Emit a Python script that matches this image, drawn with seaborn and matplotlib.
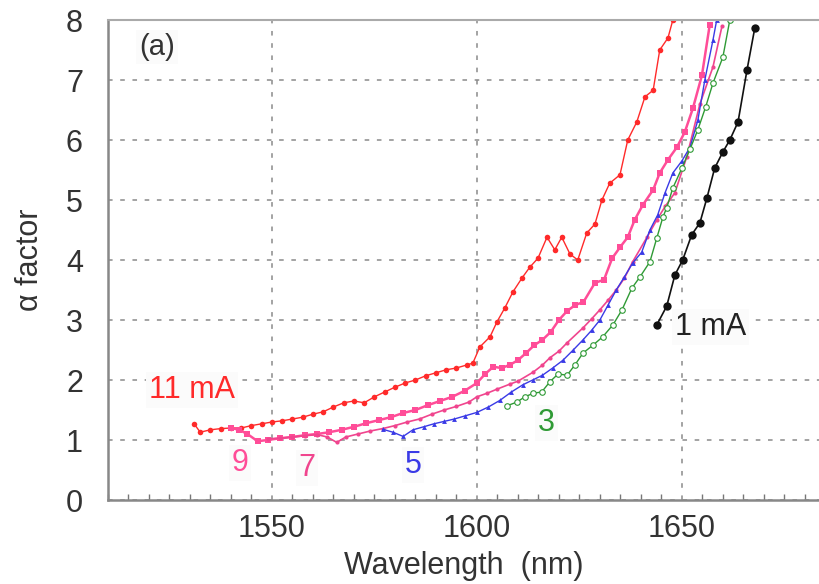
import matplotlib
matplotlib.use("Agg")
import matplotlib.pyplot as plt
from matplotlib.ticker import MultipleLocator
import seaborn as sns
import pandas as pd

# ---- data ----
wl_11 = [1531, 1532.5, 1535, 1537.5, 1540, 1542.5, 1545, 1547.5, 1550, 1552.5, 1555, 1557.5, 1560,
         1562.5, 1565, 1567.5, 1570, 1572.5, 1575, 1577.5, 1580, 1582.5, 1585, 1587.5, 1590, 1592.5,
         1595, 1597.5, 1599, 1600.7, 1603.2, 1604.9, 1606.8, 1608.8, 1611.0, 1612.9, 1614.9, 1617.1,
         1619.0, 1620.7, 1622.7, 1624.6, 1626.8, 1628.8, 1630.5, 1632.4, 1634.9, 1636.8, 1639.0,
         1641.0, 1643.0, 1644.6, 1646.6, 1647.8]
a_11 = [1.27, 1.13, 1.17, 1.19, 1.2, 1.2, 1.24, 1.27, 1.3, 1.32, 1.35, 1.38, 1.43, 1.47, 1.55, 1.62,
        1.65, 1.62, 1.72, 1.8, 1.88, 1.95, 2.0, 2.07, 2.12, 2.17, 2.2, 2.25, 2.28, 2.55, 2.72, 2.97,
        3.2, 3.47, 3.7, 3.88, 4.03, 4.38, 4.17, 4.38, 4.1, 4.0, 4.45, 4.6, 5.0, 5.28, 5.42, 6.0, 6.3,
        6.72, 6.83, 7.5, 7.7, 8.0]

wl_9 = [1540, 1542, 1544, 1546.5, 1549, 1552, 1555, 1558, 1561, 1564, 1567, 1570, 1573, 1576, 1579,
        1582, 1585, 1588, 1591, 1594, 1597, 1600, 1602, 1604, 1606, 1608, 1610, 1612, 1614, 1616,
        1618, 1620, 1622, 1624, 1626, 1628.8, 1631, 1633, 1635, 1636.8, 1638.5, 1640.5, 1643,
        1644.6, 1646.6, 1648.8, 1650.7, 1652.7, 1654.9, 1656.8]
a_9 = [1.2, 1.17, 1.1, 0.98, 1.0, 1.03, 1.05, 1.08, 1.1, 1.13, 1.17, 1.22, 1.28, 1.33, 1.38, 1.45,
       1.5, 1.58, 1.65, 1.72, 1.82, 1.95, 2.1, 2.22, 2.2, 2.25, 2.33, 2.45, 2.58, 2.67, 2.8, 3.0,
       3.15, 3.25, 3.3, 3.62, 3.67, 4.03, 4.22, 4.38, 4.67, 4.92, 5.17, 5.45, 5.67, 5.88, 6.13,
       6.53, 7.08, 7.92]

wl_7 = [1549, 1552, 1555, 1558, 1561, 1563.5, 1565.8, 1568, 1571, 1574, 1577, 1580, 1583, 1586,
        1589, 1592, 1595, 1598, 1600, 1602.5, 1605, 1608, 1610, 1613.7, 1616, 1617.8, 1620, 1622,
        1625.9, 1628, 1630, 1632, 1634, 1636, 1638, 1641.5, 1643.9, 1646, 1648.3, 1651.2, 1654.4,
        1657.6, 1659.8]
a_7 = [1.02, 1.03, 1.05, 1.07, 1.09, 1.05, 0.96, 1.05, 1.1, 1.15, 1.19, 1.24, 1.3, 1.35, 1.43, 1.5,
       1.56, 1.63, 1.72, 1.78, 1.85, 1.93, 1.98, 2.13, 2.25, 2.37, 2.48, 2.62, 2.87, 3.02, 3.17,
       3.33, 3.5, 3.7, 3.97, 4.38, 4.67, 4.9, 5.12, 5.72, 6.6, 7.22, 7.9]

wl_5 = [1577, 1579.5, 1582, 1584.4, 1587, 1589.5, 1592, 1594.5, 1597, 1600, 1602.8, 1605.6, 1608.4,
        1611.2, 1613.6, 1616, 1618.5, 1621, 1623.5, 1625.9, 1628, 1630, 1632, 1634, 1636, 1638,
        1640.2, 1642.2, 1644.1, 1645.9, 1647.8, 1650, 1652, 1653.9, 1655.6, 1657.6, 1658.5]
a_5 = [1.18, 1.13, 1.06, 1.17, 1.22, 1.27, 1.31, 1.35, 1.4, 1.46, 1.55, 1.66, 1.8, 1.92, 2.0, 2.08,
       2.2, 2.33, 2.5, 2.67, 2.83, 3.0, 3.25, 3.5, 3.72, 3.95, 4.13, 4.5, 4.75, 5.12, 5.45, 5.65,
       5.88, 6.33, 7.0, 7.67, 8.0]

wl_3 = [1607.3, 1609.7, 1611.7, 1613.8, 1615.8, 1617.8, 1619.8, 1622.0, 1623.9, 1625.9, 1628.3,
        1630.7, 1633.2, 1635.4, 1637.8, 1639.8, 1642.2, 1643.9, 1645.4, 1646.3, 1647.8, 1650.0,
        1652.0, 1653.9, 1655.8, 1657.6, 1660.0, 1661.7]
a_3 = [1.57, 1.63, 1.72, 1.78, 1.8, 1.97, 2.1, 2.08, 2.25, 2.45, 2.58, 2.72, 2.92, 3.17, 3.53, 3.72,
       3.97, 4.37, 4.72, 4.87, 5.2, 5.53, 5.85, 6.17, 6.55, 6.95, 7.38, 8.0]

wl_1 = [1643.9, 1646.3, 1648.3, 1650.2, 1652.4, 1654.4, 1656.1, 1658.0, 1660.0, 1661.7, 1663.7,
        1665.9, 1667.8]
a_1 = [2.92, 3.23, 3.75, 4.0, 4.42, 4.62, 5.03, 5.53, 5.8, 6.0, 6.3, 7.17, 7.87]

x_ticks = [1550, 1600, 1650]
y_ticks = [0, 1, 2, 3, 4, 5, 6, 7, 8]

# ---- style ----
sns.set_theme(style="white")
plt.rcParams["font.family"] = ["Liberation Sans", "DejaVu Sans"]

fig = plt.figure(figsize=(8.2, 5.84), dpi=100)
ax = fig.add_axes([108 / 820, 1 - 500 / 584, 1 - 108 / 820, (500 - 20) / 584])

series = [
    (wl_11, a_11, "#ff2a2a", "o", 4.0, 1.0, "none"),
    (wl_9, a_9, "#ff4d98", "s", 4.0, 1.8, None),
    (wl_7, a_7, "#f0458e", "o", 3.0, 1.2, None),
    (wl_5, a_5, "#3a3ae6", "^", 3.5, 1.0, None),
    (wl_3, a_3, "#2f9a35", "o", 4.0, 1.0, "hollow"),
    (wl_1, a_1, "#111111", "o", 6.0, 1.2, None),
]
for wl, a, col, mk, ms, lw, special in series:
    df = pd.DataFrame({"wl": wl, "alpha": a})
    kw = dict(marker=mk, markersize=ms, markeredgewidth=0.8 if special == "hollow" else 0)
    if special == "hollow":
        kw["markerfacecolor"] = "white"
        kw["markeredgecolor"] = col
    else:
        kw["markerfacecolor"] = col
    sns.lineplot(data=df, x="wl", y="alpha", color=col, lw=lw, estimator=None, sort=False,
                 ax=ax, legend=False, **kw)

ax.set_xlim(1510, 1683.7)
ax.set_ylim(0, 8)
ax.set_xticks(x_ticks)
ax.set_yticks(y_ticks)
ax.xaxis.set_minor_locator(MultipleLocator(5))
ax.grid(True, which="major", color="#8a8a8a", linestyle=(0, (3, 5)), lw=1.1)
ax.tick_params(axis="both", which="major", direction="in", length=8, width=1.2, color="#777777",
               labelsize=22, labelcolor="#333333")
ax.tick_params(axis="x", which="major", pad=10)
ax.tick_params(axis="y", which="major", pad=18)
ax.tick_params(axis="x", which="minor", direction="in", length=4, width=1.0, color="#777777",
               bottom=True)
for s in ["left", "bottom"]:
    ax.spines[s].set_color("#888888")
    ax.spines[s].set_linewidth(1.8)
ax.spines["top"].set_color("#aaaaaa")
ax.spines["top"].set_linewidth(1.5)
ax.spines["right"].set_visible(False)

ax.set_xlabel("Wavelength  (nm)", fontsize=22, color="#333333", labelpad=5)
ax.set_ylabel("\u03b1 factor", fontsize=22, color="#333333", labelpad=15)

bb = dict(facecolor="#fbfbfb", edgecolor="none", pad=2)
ax.text(1522, 7.55, "(a)", fontsize=21, color="#333333", ha="center", va="center", bbox=bb)
ax.text(1530.5, 1.83, "11 mA", fontsize=22, color="#ff2a2a", ha="center", va="center", bbox=bb)
ax.text(1542.2, 0.62, "9", fontsize=22, color="#ff4d98", ha="center", va="center", bbox=bb)
ax.text(1558.5, 0.53, "7", fontsize=22, color="#f0458e", ha="center", va="center", bbox=bb)
ax.text(1584.4, 0.58, "5", fontsize=22, color="#3a3ae6", ha="center", va="center", bbox=bb)
ax.text(1617.0, 1.28, "3", fontsize=22, color="#2f9a35", ha="center", va="center", bbox=bb)
ax.text(1648.3, 2.88, "1 mA", fontsize=22, color="#222222", ha="left", va="center", bbox=bb)

fig.savefig("out.png", dpi=100)
